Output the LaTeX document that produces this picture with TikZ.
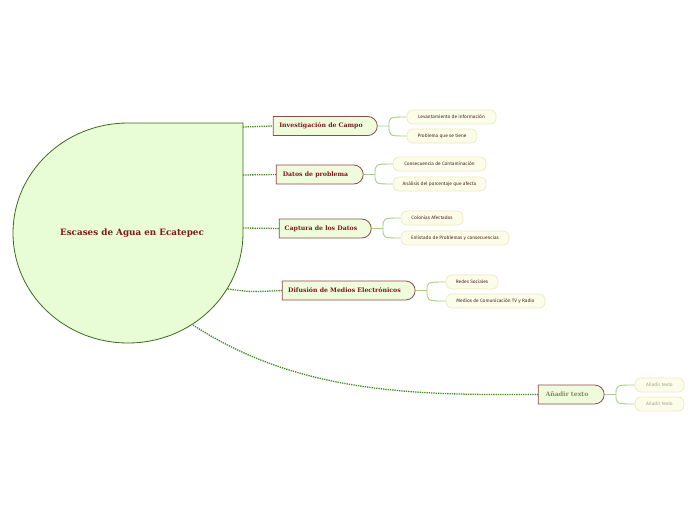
\documentclass[tikz,border=0pt]{standalone}
\usepackage{fontspec}
\usetikzlibrary{shapes.misc}
\newfontfamily\titlefont{DejaVu Serif}
\newfontfamily\leaffont{Fira Sans}
\definecolor{cfill}{HTML}{E8FDD6}
\definecolor{cborder}{HTML}{3D6B1A}
\definecolor{bfill}{HTML}{EFFCDC}
\definecolor{bborder}{HTML}{8A4B4B}
\definecolor{btext}{HTML}{7A1A1A}
\definecolor{gtext}{HTML}{7F8C6A}
\definecolor{lfill}{HTML}{FCFDE9}
\definecolor{lborder}{HTML}{F0E8C2}
\definecolor{ltext}{HTML}{4A2222}
\definecolor{lgtext}{HTML}{A0A585}
\definecolor{lconn}{HTML}{A5CF85}
\definecolor{dconn}{HTML}{3E8E1E}
\tikzset{
  branch/.style={rounded rectangle, rounded rectangle left arc=none, draw=bborder, fill=bfill, line width=0.8pt,
    minimum height=19pt, inner sep=0pt, text=btext, font=\titlefont\bfseries\fontsize{6.2}{7}\selectfont},
  leaf/.style={rectangle, rounded corners=6pt, draw=lborder, fill=lfill, line width=0.7pt,
    minimum height=14pt, inner sep=0pt, text=ltext, font=\leaffont\fontsize{4.8}{5}\selectfont},
  leafconn/.style={draw=lconn, line width=0.9pt},
  dotconn/.style={draw=dconn, line width=1.3pt, densely dotted},
}
\begin{document}
\begin{tikzpicture}[x=1pt,y=1pt]
\useasboundingbox[fill=white] (0,0) rectangle (696,-520);
% central shape
\path[fill=cfill, draw=cborder, line width=0.8pt]
  (243,-233) -- (243,-123) -- (128,-123)
  arc[start angle=90, end angle=360, x radius=115, y radius=110] -- cycle;
\node[text=btext, font=\titlefont\bfseries\fontsize{8.8}{10}\selectfont] (center) at (132,-233) {Escases de Agua en Ecatepec};
\coordinate (c1) at (243,-127);
\coordinate (c2) at (243,-175);
\coordinate (c3) at (243,-228);
\coordinate (c4) at (228,-289);
\coordinate (c5) at (193,-325);
% branches
\node[branch, minimum width=104pt] (b1) at (325,-126) {Investigación de Campo\hspace*{8pt}};
\node[branch, minimum width=87pt] (b2) at (319.5,-174.5) {Datos de problema\hspace*{8pt}};
\node[branch, minimum width=92pt] (b3) at (325,-228.5) {Captura de los Datos\hspace*{8pt}};
\node[branch, minimum width=133pt] (b4) at (348.5,-290.5) {Difusión de Medios Electrónicos\hspace*{8pt}};
\node[branch, minimum width=66pt, text=gtext] (b5) at (571,-394.5) {Añadir texto\hspace*{8pt}};
% leaves
\node[leaf, minimum width=89pt] (l11) at (451.5,-117) {Levantamiento de información};
\node[leaf, minimum width=70pt] (l12) at (442,-136) {Problema que se tiene};
\node[leaf, minimum width=93pt] (l21) at (439.5,-164) {Consecuencia de Contaminación};
\node[leaf, minimum width=93pt] (l22) at (439.5,-184) {Análisis del porcentaje que afecta};
\node[leaf, minimum width=62pt] (l31) at (432,-218) {Colonias Afectadas};
\node[leaf, minimum width=108pt] (l32) at (455,-238) {Enlistado de Problemas y consecuencias};
\node[leaf, minimum width=52pt] (l41) at (472,-282) {Redes Sociales};
\node[leaf, minimum width=99pt] (l42) at (495.5,-301) {Medios de Comunicación TV y Radio};
\node[leaf, minimum width=49pt, text=lgtext] (l51) at (659.5,-385) {Añadir texto};
\node[leaf, minimum width=49pt, text=lgtext] (l52) at (659.5,-404) {Añadir texto};
% dotted connectors
\draw[dotconn] (c1) -- (b1.west);
\draw[dotconn] (c2) -- (b2.west);
\draw[dotconn] (c3) -- (b3.west);
\draw[dotconn] (c4) .. controls (250,-292) .. (b4.west);
\draw[dotconn] (c5) .. controls (300,-395) and (420,-395) .. (b5.west);
% leaf connectors
\draw[leafconn] (b1.east) -- (389,-126) .. controls (389,-117) .. (l11.west);
\draw[leafconn] (389,-126) .. controls (389,-136) .. (l12.west);
\draw[leafconn] (b2.east) -- (375,-174.5) .. controls (375,-164) .. (l21.west);
\draw[leafconn] (375,-174.5) .. controls (375,-184) .. (l22.west);
\draw[leafconn] (b3.east) -- (383,-228.5) .. controls (383,-218) .. (l31.west);
\draw[leafconn] (383,-228.5) .. controls (383,-238) .. (l32.west);
\draw[leafconn] (b4.east) -- (427,-290.5) .. controls (427,-282) .. (l41.west);
\draw[leafconn] (427,-290.5) .. controls (427,-301) .. (l42.west);
\draw[leafconn] (b5.east) -- (616,-394.5) .. controls (616,-385) .. (l51.west);
\draw[leafconn] (616,-394.5) .. controls (616,-404) .. (l52.west);
\end{tikzpicture}
\end{document}
